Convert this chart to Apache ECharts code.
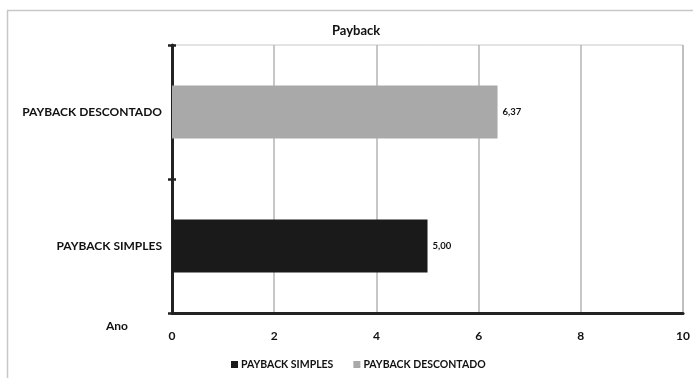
<!DOCTYPE html>
<html>
<head>
<meta charset="utf-8">
<script src="https://cdn.jsdelivr.net/npm/echarts@6/dist/echarts.min.js"></script>
<style>
  html, body { margin: 0; padding: 0; background: #fff; }
  #chart { width: 693px; height: 378px; }
</style>
</head>
<body>
<div id="chart"></div>
<script>
// Payback chart data
const categories = ['PAYBACK SIMPLES', 'PAYBACK DESCONTADO'];
const simplesValues = [5.00, '-'];
const descontadoValues = ['-', 6.37];
const xTicks = [0, 2, 4, 6, 8, 10];

const FONT = 'Lato, "Liberation Sans", Arial, sans-serif';
const fmt = p => Number(p.value).toFixed(2).replace('.', ',');

const chart = echarts.init(document.getElementById('chart'));
chart.setOption({
  animation: false,
  backgroundColor: '#fff',
  title: {
    text: 'Payback',
    left: 327,
    top: 19,
    textStyle: { fontFamily: FONT, fontSize: 13, fontWeight: 'bold', color: '#111' }
  },
  graphic: [
    {
      type: 'rect', silent: true, z: -1,
      shape: { x: 7.5, y: 10.5, width: 700, height: 400 },
      style: { fill: 'none', stroke: '#c8c8c8', lineWidth: 1.5 }
    },
    {
      type: 'text', left: 106, top: 320,
      style: { text: 'Ano', fontFamily: FONT, fontSize: 12, fontWeight: 'bold', fill: '#111' }
    }
  ],
  legend: {
    bottom: 3,
    left: 226,
    itemWidth: 7,
    itemHeight: 7,
    itemGap: 20,
    icon: 'rect',
    textStyle: { fontFamily: FONT, fontSize: 10.5, fontWeight: 'bold', color: '#111', padding: [0, 0, 0, -2] },
    data: ['PAYBACK SIMPLES', 'PAYBACK DESCONTADO']
  },
  grid: {
    left: 172, right: 6, top: 45, bottom: 65,
    show: true, borderColor: '#c8c8c8', borderWidth: 1
  },
  xAxis: {
    type: 'value',
    min: 0, max: 10, interval: 2,
    axisLine: { show: true, lineStyle: { color: '#222', width: 3 } },
    axisTick: { show: false },
    splitLine: { show: true, lineStyle: { color: '#b5b5b5', width: 1.5 } },
    axisLabel: {
      margin: 17,
      fontFamily: FONT, fontSize: 12, fontWeight: 'bold', color: '#111',
      formatter: v => xTicks.includes(v) ? String(v) : ''
    }
  },
  yAxis: [
    {
      type: 'category',
      data: categories,
      axisLine: { show: true, lineStyle: { color: '#222', width: 3 } },
      axisTick: { show: true, length: 4, lineStyle: { color: '#222', width: 2.5 } },
      splitLine: { show: false },
      axisLabel: {
        margin: 10,
        fontFamily: FONT, fontSize: 12, fontWeight: 'bold', color: '#111'
      }
    },
    {
      // inner half of the crossing tick marks on the category axis
      type: 'category',
      data: categories,
      position: 'left',
      offset: 0,
      axisLine: { show: false },
      axisTick: { show: true, inside: true, length: 4, lineStyle: { color: '#222', width: 2.5 } },
      axisLabel: { show: false },
      splitLine: { show: false }
    }
  ],
  series: [
    {
      name: 'PAYBACK SIMPLES',
      type: 'bar',
      data: simplesValues,
      barWidth: 53,
      barGap: '-100%',
      itemStyle: { color: '#1a1a1a' },
      label: {
        show: true, position: 'right', distance: 5, formatter: fmt,
        fontFamily: FONT, fontSize: 9.5, fontWeight: 'bold', color: '#111'
      }
    },
    {
      name: 'PAYBACK DESCONTADO',
      type: 'bar',
      data: descontadoValues,
      barWidth: 53,
      barGap: '-100%',
      itemStyle: { color: '#a9a9a9' },
      label: {
        show: true, position: 'right', distance: 5, formatter: fmt,
        fontFamily: FONT, fontSize: 9.5, fontWeight: 'bold', color: '#111'
      }
    }
  ]
});
</script>
</body>
</html>
